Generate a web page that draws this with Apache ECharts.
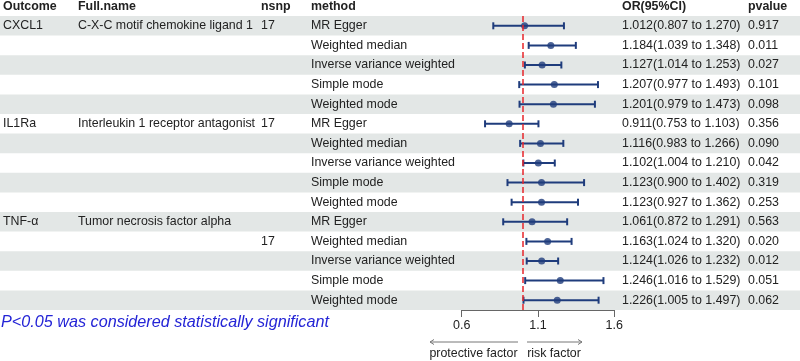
<!DOCTYPE html>
<html><head><meta charset="utf-8">
<script src="https://cdn.jsdelivr.net/npm/echarts@6/dist/echarts.min.js"></script>
<style>html,body{margin:0;padding:0;background:#fff}#c{width:800px;height:361px}</style>
</head><body><div id="c"></div>
<script>
var outcomes = ["CXCL1","","","","","IL1Ra","","","","","TNF-α","","","",""];
var fullNames = ["C-X-C motif chemokine ligand 1","","","","","Interleukin 1 receptor antagonist","","","","","Tumor necrosis factor alpha","","","",""];
var nsnp = ["17","","","","","17","","","","","","17","","",""];
var methods = ["MR Egger","Weighted median","Inverse variance weighted","Simple mode","Weighted mode",
               "MR Egger","Weighted median","Inverse variance weighted","Simple mode","Weighted mode",
               "MR Egger","Weighted median","Inverse variance weighted","Simple mode","Weighted mode"];
var orVals = [1.012,1.184,1.127,1.207,1.201, 0.911,1.116,1.102,1.123,1.123, 1.061,1.163,1.124,1.246,1.226];
var lower  = [0.807,1.039,1.014,0.977,0.979, 0.753,0.983,1.004,0.900,0.927, 0.872,1.024,1.026,1.016,1.005];
var upper  = [1.270,1.348,1.253,1.493,1.473, 1.103,1.266,1.210,1.402,1.362, 1.291,1.320,1.232,1.529,1.497];
var pvals  = ["0.917","0.011","0.027","0.101","0.098","0.356","0.090","0.042","0.319","0.253","0.563","0.020","0.012","0.051","0.062"];
var headers = ["Outcome","Full.name","nsnp","method","OR(95%CI)","pvalue"];
var xTicks = [0.6, 1.1, 1.6];

var colX = [3, 78, 261, 311, 622, 748];
var FONT = '12.4px "Liberation Sans", Arial, sans-serif';
var BFONT = 'bold 12.4px "Liberation Sans", Arial, sans-serif';
var TXT = '#222';
var NAVY = '#1f3c7c';

var rowIdx = methods.map(function(_, i){ return i; });
var orText = orVals.map(function(v, i){ return v.toFixed(3) + '(' + lower[i].toFixed(3) + ' to ' + upper[i].toFixed(3) + ')'; });

var chart = echarts.init(document.getElementById('c'), null, {renderer:'canvas'});

function txt(s, x, y, font, fill, align){
  return {type:'text', style:{text:s, x:x, y:y, font:font, fill:fill||TXT, align:align||'left', verticalAlign:'middle', textAlign:align||'left', textVerticalAlign:'middle'}};
}

var headerGraphics = headers.map(function(h, i){ return txt(h, colX[i], 7, BFONT); });

chart.setOption({
  animation:false,
  grid:[
    {left:0, width:800, top:16, height:294},
    {left:461.7, width:152.6, top:16, height:294}
  ],
  xAxis:[
    {gridIndex:0, type:'value', min:0, max:800, show:false},
    {gridIndex:1, type:'value', min:0.6, max:1.6, interval:0.5,
     axisLine:{show:true, onZero:false, lineStyle:{color:'#666', width:1}},
     axisTick:{show:true, length:7, lineStyle:{color:'#666'}},
     axisLabel:{show:true, margin:9, fontSize:12.5, color:TXT, fontFamily:'"Liberation Sans", Arial, sans-serif',
       formatter:function(v){ return v.toFixed(1); }},
     splitLine:{show:false}}
  ],
  yAxis:[
    {gridIndex:0, type:'category', data:rowIdx, inverse:true, show:false},
    {gridIndex:1, type:'category', data:rowIdx, inverse:true, show:false}
  ],
  series:[
    {
      type:'custom', xAxisIndex:0, yAxisIndex:0, z:0, silent:true,
      data:rowIdx.map(function(i){ return [0, i]; }),
      renderItem:function(params, api){
        var i = api.value(1);
        var c = api.coord([0, i]);
        var h = api.size([0, 1])[1];
        var children = [];
        if (i % 2 === 0) {
          children.push({type:'rect', shape:{x:0, y:c[1]-h/2, width:800, height:h}, style:{fill:'#e3e7e6'}});
        }
        children.push(txt(outcomes[i], colX[0], c[1], FONT));
        children.push(txt(fullNames[i], colX[1], c[1], FONT));
        children.push(txt(nsnp[i], colX[2], c[1], FONT));
        children.push(txt(methods[i], colX[3], c[1], FONT));
        children.push(txt(orText[i], colX[4], c[1], FONT));
        children.push(txt(pvals[i], colX[5], c[1], FONT));
        return {type:'group', children:children};
      }
    },
    {
      type:'custom', xAxisIndex:1, yAxisIndex:1, z:3, silent:true,
      data:rowIdx.map(function(i){ return [lower[i], upper[i], i]; }),
      renderItem:function(params, api){
        var a = api.coord([api.value(0), api.value(2)]);
        var b = api.coord([api.value(1), api.value(2)]);
        var cap = 3.5;
        var st = {stroke:NAVY, lineWidth:2};
        return {type:'group', children:[
          {type:'line', shape:{x1:a[0], y1:a[1], x2:b[0], y2:b[1]}, style:st},
          {type:'line', shape:{x1:a[0], y1:a[1]-cap, x2:a[0], y2:a[1]+cap}, style:st},
          {type:'line', shape:{x1:b[0], y1:b[1]-cap, x2:b[0], y2:b[1]+cap}, style:st}
        ]};
      },
      markLine:{
        silent:true, symbol:'none', animation:false,
        label:{show:false},
        lineStyle:{color:'#e8262b', type:[6,3], width:1.5},
        data:[{xAxis:1}]
      }
    },
    {
      type:'scatter', xAxisIndex:1, yAxisIndex:1, z:4, silent:true,
      symbol:'circle', symbolSize:7,
      itemStyle:{color:NAVY},
      data:rowIdx.map(function(i){ return [orVals[i], i]; })
    }
  ],
  graphic: headerGraphics.concat([
    {type:'text', style:{text:'P<0.05 was considered statistically significant', x:1, y:322,
      font:'italic 16.2px "Liberation Sans", Arial, sans-serif', fill:'#2424d6', verticalAlign:'middle', textVerticalAlign:'middle'}},
    {type:'line', shape:{x1:518, y1:342, x2:430, y2:342}, style:{stroke:'#777', lineWidth:1}},
    {type:'polyline', shape:{points:[[434,339.5],[430,342],[434,344.5]]}, style:{stroke:'#777', lineWidth:1, fill:null}},
    {type:'line', shape:{x1:527, y1:342, x2:582, y2:342}, style:{stroke:'#777', lineWidth:1}},
    {type:'polyline', shape:{points:[[578,339.5],[582,342],[578,344.5]]}, style:{stroke:'#777', lineWidth:1, fill:null}},
    {type:'text', style:{text:'protective factor', x:473.5, y:354, font:'12.4px "Liberation Sans", Arial, sans-serif', fill:TXT, align:'center', textAlign:'center', verticalAlign:'middle', textVerticalAlign:'middle'}},
    {type:'text', style:{text:'risk factor', x:554, y:354, font:'12.4px "Liberation Sans", Arial, sans-serif', fill:TXT, align:'center', textAlign:'center', verticalAlign:'middle', textVerticalAlign:'middle'}}
  ])
});
</script></body></html>
